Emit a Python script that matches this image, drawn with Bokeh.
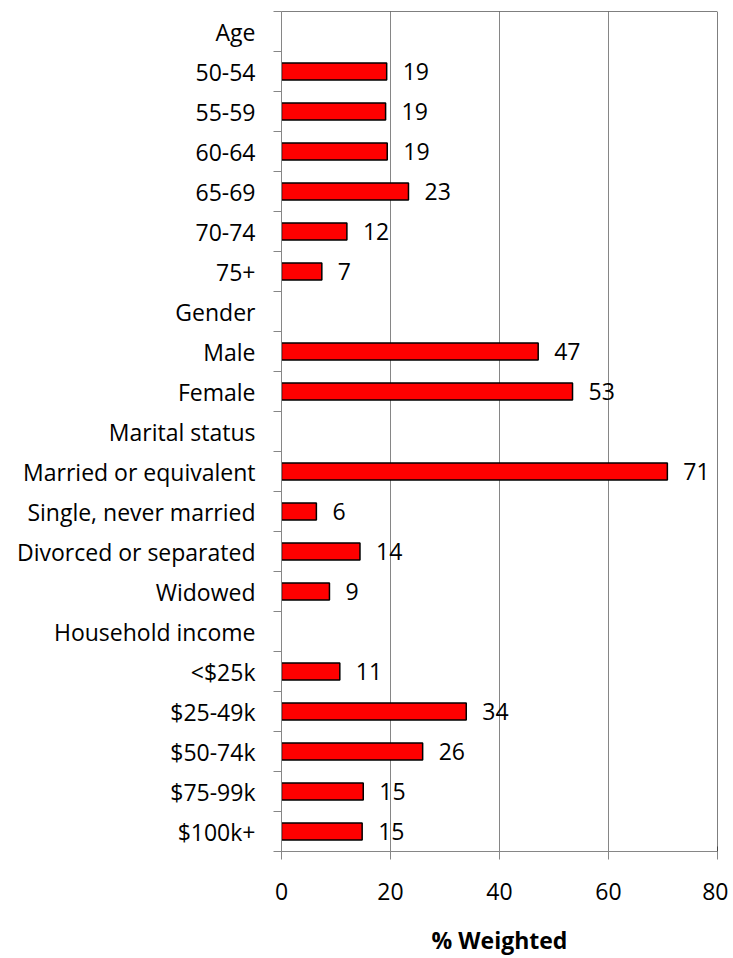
from bokeh.plotting import figure
from bokeh.models import ColumnDataSource, FixedTicker, Span, Range1d
from bokeh.core.properties import value
from bokeh.embed import file_html
from bokeh.resources import INLINE

categories = ["Age", "50-54", "55-59", "60-64", "65-69", "70-74", "75+",
              "Gender", "Male", "Female",
              "Marital status", "Married or equivalent", "Single, never married",
              "Divorced or separated", "Widowed",
              "Household income", "<$25k", "$25-49k", "$50-74k", "$75-99k", "$100k+"]
values = [None, 19.3, 19.1, 19.4, 23.3, 12.0, 7.4,
          None, 47.1, 53.4,
          None, 70.8, 6.4, 14.4, 8.8,
          None, 10.7, 33.9, 25.9, 15.0, 14.8]
x_ticks = [0, 20, 40, 60, 80]
x_label = "% Weighted"

FONT = "Open Sans"
GRAY = "#868686"

n = len(categories)
ys = [i for i, v in enumerate(values) if v is not None]
vs = [v for v in values if v is not None]
src = ColumnDataSource(dict(y=ys, v=vs, lbl=[f"{v:.0f}" for v in vs]))

p = figure(width=728, height=958, output_backend="svg", toolbar_location=None,
           x_range=Range1d(0, 80), y_range=Range1d(n - 0.5, -0.5),
           min_border_left=281, min_border_right=11, min_border_top=11,
           min_border_bottom=107)
p.outline_line_color = None
p.background_fill_color = "white"
p.border_fill_color = "white"

p.hbar(y="y", left=0, right="v", height=0.43, source=src,
       fill_color="#FF0000", line_color="black", line_width=1.5)
p.text(x="v", y="y", text="lbl", source=src, x_offset=16,
       text_align="left", text_baseline="middle",
       text_font=value(FONT), text_font_size="23px", text_color="black")

# grid
p.ygrid.visible = False
p.xgrid.ticker = FixedTicker(ticks=[t for t in x_ticks if 0 < t < 80])
p.xgrid.grid_line_color = GRAY
p.xgrid.grid_line_width = 1

# y axis
ya = p.yaxis[0]
ya.ticker = FixedTicker(ticks=list(range(n)), minor_ticks=[i - 0.5 for i in range(n + 1)])
ya.major_label_overrides = {i: c for i, c in enumerate(categories)}
ya.major_tick_out = 0
ya.major_tick_in = 0
ya.major_tick_line_color = None
ya.minor_tick_out = 8
ya.minor_tick_in = 0
ya.minor_tick_line_color = GRAY
ya.axis_line_color = GRAY
ya.major_label_standoff = 18
ya.major_label_text_font = FONT
ya.major_label_text_font_size = "23px"
ya.major_label_text_color = "black"

# x axis
xa = p.xaxis[0]
xa.ticker = FixedTicker(ticks=x_ticks)
xa.major_tick_in = 5
xa.major_tick_out = 8
xa.major_tick_line_color = GRAY
xa.minor_tick_line_color = None
xa.axis_line_color = GRAY
xa.major_label_standoff = 23
xa.major_label_text_font = FONT
xa.major_label_text_font_size = "23px"
xa.major_label_text_color = "black"
xa.axis_label = x_label
xa.axis_label_text_font = FONT
xa.axis_label_text_font_size = "23px"
xa.axis_label_text_font_style = "bold"
xa.axis_label_text_color = "black"
xa.axis_label_standoff = 21

# top and right borders
p.add_layout(Span(location=-0.5, dimension="width", line_color="black", line_width=1))
p.add_layout(Span(location=80, dimension="height", line_color="black", line_width=1))

open("out.html", "w").write(file_html(p, INLINE))
